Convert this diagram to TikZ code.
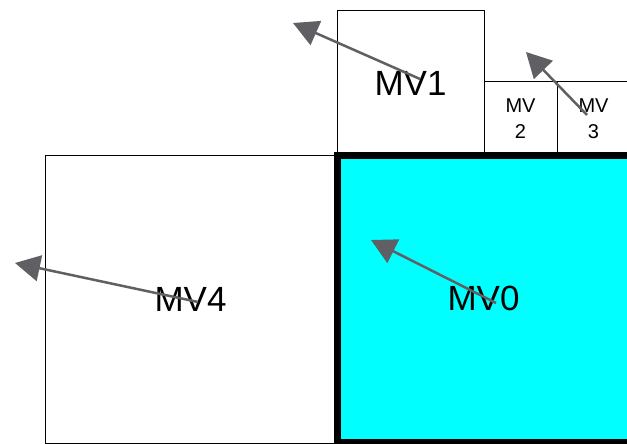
\documentclass[tikz,border=0pt]{standalone}
\usepackage{fontspec}
\setmainfont{Liberation Sans}
\usetikzlibrary{arrows.meta}
\definecolor{mvgray}{RGB}{96,96,100}
\definecolor{mvcyan}{RGB}{0,255,255}
\begin{document}
\begin{tikzpicture}[x=1pt,y=-1pt,
  blk/.style={draw,line width=1pt,inner sep=0pt,font=\fontsize{35}{40}\selectfont},
  sblk/.style={blk,align=center,font=\fontsize{20}{26}\selectfont},
  mv/.style={draw=mvgray,line width=2.5pt,-{Triangle[length=25pt,width=26pt,fill=mvgray]}}]
\useasboundingbox (0,0) rectangle (627,444);
% neighbouring blocks
\node[blk,minimum width=291pt,minimum height=288pt] (mv4) at (190.5,299) {MV4};
\node[blk,minimum width=147pt,minimum height=144pt] (mv1) at (410.5,83) {MV1};
\node[sblk,minimum width=73pt,minimum height=73pt] (mv2) at (520.5,118.5) {MV\\2};
\node[sblk,minimum width=73pt,minimum height=73pt] (mv3) at (593.5,118.5) {MV\\3};
% current block
\node[blk,fill=mvcyan,line width=7pt,minimum width=293pt,minimum height=287pt] (mv0) at (483.5,298.5) {MV0};
% motion vectors
\coordinate (s0) at (496,303);  \coordinate (t0) at (371,240);
\coordinate (s4) at (198,302);  \coordinate (t4) at (15,263);
\coordinate (s1) at (420,79);   \coordinate (t1) at (293,23);
\coordinate (s3) at (587,115);  \coordinate (t3) at (526,52);
\draw[mv](s0)--(t0);
\draw[mv](s4)--(t4);
\draw[mv](s1)--(t1);
\draw[mv](s3)--(t3);
\end{tikzpicture}
\end{document}
